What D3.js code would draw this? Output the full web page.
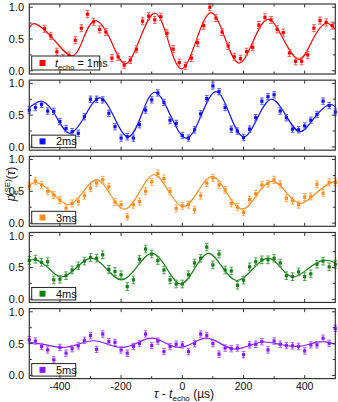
<!DOCTYPE html>
<html>
<head>
<meta charset="utf-8">
<script src="https://cdn.jsdelivr.net/npm/d3@7"></script>
<style>
  body { margin: 0; background: #fff; }
  text { font-family: "Liberation Sans", Arial, sans-serif; fill: #111; }
</style>
</head>
<body>
<div id="chart"></div>
<script>
// tau grids (µs)
var tauOdd = [-450, -430, -410, -390, -370, -350, -330, -310, -290, -270, -250, -230, -210, -190, -170, -150,
  -130, -110, -90, -70, -50, -30, -10, 10, 30, 50, 70, 90, 110, 130, 150, 170, 190, 210, 230, 250, 270, 290,
  310, 330, 350, 370, 390, 410, 430, 450, 470, 490];
var tauEven = [-500, -480, -460, -440, -420, -400, -380, -360, -340, -320, -300, -280, -260, -240, -220, -200,
  -180, -160, -140, -120, -100, -80, -60, -40, -20, 0, 20, 40, 60, 80, 100, 120, 140, 160, 180, 200, 220, 240,
  260, 280, 300, 320, 340, 360, 380, 400, 420, 440, 460, 480, 500];

// measured p_e for each echo time
var pe1ms = [0.66, 0.55, 0.30, 0.20, 0.24, 0.48, 0.67, 0.89, 0.77, 0.65, 0.61, 0.20, 0.22, 0.09, 0.17, 0.34,
  0.78, 0.86, 0.80, 0.85, 0.59, 0.34, 0.13, 0.08, 0.20, 0.44, 0.71, 1.00, 0.83, 0.61, 0.39, 0.22, 0.19, 0.30,
  0.37, 0.72, 0.84, 0.80, 0.65, 0.60, 0.28, 0.15, 0.15, 0.25, 0.67, 0.79, 0.76, 0.71];
var pe2ms = [0.58, 0.62, 0.67, 0.565, 0.56, 0.40, 0.29, 0.24, 0.215, 0.475, 0.75, 0.75, 0.74, 0.53, 0.32, 0.14,
  0.16, 0.14, 0.35, 0.58, 0.74, 0.85, 0.70, 0.42, 0.37, 0.18, 0.14, 0.27, 0.52, 0.76, 0.96, 0.87, 0.62, 0.28,
  0.25, 0.15, 0.28, 0.46, 0.72, 0.79, 0.82, 0.565, 0.46, 0.28, 0.27, 0.33, 0.42, 0.51, 0.72, 0.65, 0.55];
var pe3ms = [0.58, 0.66, 0.60, 0.50, 0.44, 0.36, 0.235, 0.31, 0.34, 0.43, 0.55, 0.63, 0.68, 0.57, 0.33, 0.29,
  0.10, 0.29, 0.34, 0.50, 0.65, 0.78, 0.70, 0.50, 0.23, 0.27, 0.29, 0.21, 0.43, 0.63, 0.71, 0.60, 0.52, 0.31,
  0.25, 0.17, 0.37, 0.46, 0.60, 0.62, 0.68, 0.61, 0.39, 0.355, 0.29, 0.41, 0.42, 0.61, 0.47, 0.64, 0.64];
var pe4ms = [0.61, 0.63, 0.58, 0.59, 0.305, 0.315, 0.37, 0.46, 0.525, 0.60, 0.655, 0.645, 0.70, 0.47, 0.435,
  0.385, 0.20, 0.305, 0.63, 0.79, 0.71, 0.61, 0.46, 0.305, 0.24, 0.24, 0.385, 0.57, 0.645, 0.82, 0.54, 0.71,
  0.46, 0.445, 0.22, 0.30, 0.51, 0.59, 0.62, 0.62, 0.645, 0.57, 0.37, 0.355, 0.43, 0.355, 0.40, 0.55, 0.60,
  0.51, 0.55];
var pe5ms = [0.56, 0.54, 0.455, 0.40, 0.245, 0.44, 0.35, 0.42, 0.465, 0.55, 0.625, 0.41, 0.65, 0.53, 0.52, 0.40,
  0.35, 0.455, 0.50, 0.65, 0.47, 0.54, 0.375, 0.455, 0.49, 0.48, 0.375, 0.50, 0.65, 0.625, 0.50, 0.335, 0.43,
  0.42, 0.43, 0.325, 0.48, 0.49, 0.53, 0.40, 0.54, 0.49, 0.47, 0.465, 0.455, 0.385, 0.48, 0.48, 0.585, 0.505,
  0.74];

var fit1ms = [[-500, 0.675], [-476, 0.73], [-418, 0.48], [-361, 0.235], [-323, 0.51], [-285, 0.79], [-236, 0.50],
  [-187, 0.11], [-138, 0.51], [-89, 0.905], [-46, 0.47], [-3, 0.03], [45, 0.47], [93, 0.915], [139, 0.52],
  [185, 0.12], [232, 0.47], [280, 0.81], [330, 0.50], [381, 0.18], [423, 0.46], [465, 0.74], [500, 0.65]];
var fit2ms = [[-500, 0.62], [-454, 0.71], [-410, 0.46], [-367, 0.215], [-318, 0.49], [-269, 0.77], [-222, 0.46],
  [-176, 0.16], [-133, 0.51], [-90, 0.86], [-39, 0.50], [13, 0.14], [62, 0.50], [110, 0.87], [155, 0.51],
  [200, 0.16], [246, 0.46], [291, 0.75], [338, 0.50], [384, 0.24], [430, 0.45], [476, 0.66], [500, 0.63]];
var fit3ms = [[-500, 0.60], [-470, 0.63], [-420, 0.45], [-372, 0.29], [-326, 0.48], [-280, 0.68], [-235, 0.45],
  [-188, 0.22], [-140, 0.49], [-92, 0.76], [-45, 0.50], [3, 0.26], [50, 0.49], [98, 0.73], [146, 0.47],
  [195, 0.22], [243, 0.44], [292, 0.66], [340, 0.48], [387, 0.31], [437, 0.47], [487, 0.64], [500, 0.63]];
var fit4ms = [[-500, 0.60], [-478, 0.62], [-437, 0.49], [-395, 0.35], [-345, 0.50], [-296, 0.645], [-246, 0.47],
  [-197, 0.305], [-148, 0.51], [-98, 0.72], [-50, 0.48], [-5, 0.24], [40, 0.48], [85, 0.72], [130, 0.51],
  [178, 0.295], [229, 0.47], [280, 0.645], [321, 0.50], [362, 0.35], [411, 0.48], [460, 0.61], [500, 0.575]];
var fit5ms = [[-500, 0.52], [-445, 0.48], [-390, 0.44], [-340, 0.49], [-290, 0.545], [-243, 0.49], [-197, 0.44],
  [-148, 0.51], [-100, 0.585], [-55, 0.51], [-10, 0.44], [35, 0.51], [80, 0.585], [125, 0.50], [170, 0.415],
  [220, 0.47], [265, 0.525], [318, 0.49], [370, 0.455], [415, 0.49], [460, 0.53], [500, 0.49]];

var errBar = [0.055, 0.05, 0.055, 0.06, 0.05];
var echoLabels = ["1ms", "2ms", "3ms", "4ms", "5ms"];
var xTicks = [-400, -200, 0, 200, 400];
var yTicks = [0, 0.5, 1];

var colors = ["#ff0000", "#1010ff", "#ff8c1a", "#108010", "#8a1aff"];
var errColors = ["#ff5555", "#5a5aff", "#ffaa55", "#50a050", "#a860ff"];

var panels = [
  { tau: tauOdd, pe: pe1ms, fit: fit1ms },
  { tau: tauEven, pe: pe2ms, fit: fit2ms },
  { tau: tauEven, pe: pe3ms, fit: fit3ms },
  { tau: tauEven, pe: pe4ms, fit: fit4ms },
  { tau: tauEven, pe: pe5ms, fit: fit5ms }
];

var width = 338, height = 402;
var panel_top = 4, panel_h = 70, panel_step = 76.15;

var svg = d3.select("#chart").append("svg")
  .attr("width", width)
  .attr("height", height);

var x = d3.scaleLinear().domain([-500, 500]).range([29.3, 335.3]);
var y = d3.scaleLinear().domain([-0.05, 1.05]).range([panel_h, 0]);

var fitLine = d3.line()
  .x(function (d) { return x(d[0]); })
  .y(function (d) { return y(d[1]); })
  .curve(d3.curveNatural);

panels.forEach(function (p, k) {
  var g = svg.append("g").attr("transform", "translate(0," + (panel_top + k * panel_step) + ")");
  var col = colors[k];

  // fit
  g.append("path")
    .attr("d", fitLine(p.fit))
    .attr("fill", "none")
    .attr("stroke", col)
    .attr("stroke-width", 1.2);

  var pts = p.tau.map(function (t, i) { return { t: t, v: p.pe[i] }; });
  var e = errBar[k];

  // error bars
  var eb = g.append("g").attr("stroke", errColors[k]).attr("stroke-width", 1);
  eb.selectAll(".v").data(pts).enter().append("line")
    .attr("x1", function (d) { return x(d.t); })
    .attr("x2", function (d) { return x(d.t); })
    .attr("y1", function (d) { return y(d.v - e); })
    .attr("y2", function (d) { return y(d.v + e); });
  [-1, 1].forEach(function (s) {
    eb.selectAll(".c" + s).data(pts).enter().append("line")
      .attr("x1", function (d) { return x(d.t) - 1.8; })
      .attr("x2", function (d) { return x(d.t) + 1.8; })
      .attr("y1", function (d) { return y(d.v + s * e); })
      .attr("y2", function (d) { return y(d.v + s * e); });
  });

  // markers
  g.selectAll(".m").data(pts).enter().append("rect")
    .attr("x", function (d) { return x(d.t) - 1.6; })
    .attr("y", function (d) { return y(d.v) - 1.6; })
    .attr("width", 3.2)
    .attr("height", 3.2)
    .attr("fill", col);

  // legend
  var lw = k == 0 ? 68 : 44;
  var ly = k == 0 ? 52 : 55;
  var lh = k == 0 ? 14 : 12.5;
  g.append("rect")
    .attr("x", 31.7).attr("y", ly).attr("width", lw).attr("height", lh)
    .attr("fill", "#fff").attr("stroke", "#222").attr("stroke-width", 1);
  g.append("rect")
    .attr("x", 39.5).attr("y", ly + lh / 2 - 3).attr("width", 6).attr("height", 6)
    .attr("fill", col);
  var lt = g.append("text")
    .attr("x", k == 0 ? 55 : 56)
    .attr("y", ly + lh / 2 + 4)
    .attr("font-size", "11px");
  if (k == 0) {
    lt.append("tspan").attr("font-style", "italic").text("t");
    lt.append("tspan").attr("font-size", "7.5px").attr("dy", 2.5).text("echo");
    lt.append("tspan").attr("dy", -2.5).text(" = " + echoLabels[k]);
  } else {
    lt.text(echoLabels[k]);
  }

  // frame
  g.append("rect")
    .attr("x", x(-500)).attr("y", 0)
    .attr("width", x(500) - x(-500)).attr("height", panel_h)
    .attr("fill", "none").attr("stroke", "#333").attr("stroke-width", 1.2);

  // ticks, inward
  var tk = g.append("g").attr("stroke", "#333").attr("stroke-width", 1);
  d3.range(-400, 401, 100).forEach(function (t) {
    var len = t % 200 == 0 ? 3.5 : 2.5;
    tk.append("line").attr("x1", x(t)).attr("x2", x(t)).attr("y1", panel_h).attr("y2", panel_h - len);
    tk.append("line").attr("x1", x(t)).attr("x2", x(t)).attr("y1", 0).attr("y2", len);
  });
  [0, 0.25, 0.5, 0.75, 1].forEach(function (v) {
    var len = v % 0.5 == 0 ? 3.5 : 2.5;
    tk.append("line").attr("x1", x(-500)).attr("x2", x(-500) + len).attr("y1", y(v)).attr("y2", y(v));
    tk.append("line").attr("x1", x(500)).attr("x2", x(500) - len).attr("y1", y(v)).attr("y2", y(v));
  });

  g.selectAll(".yl").data(yTicks).enter().append("text")
    .attr("x", 24)
    .attr("y", function (d) { return y(d); })
    .attr("dy", "0.36em")
    .attr("text-anchor", "end")
    .attr("font-size", "11px")
    .text(function (d) { return d.toFixed(1); });

  if (k == panels.length - 1) {
    g.selectAll(".xl").data(xTicks).enter().append("text")
      .attr("x", function (d) { return x(d); })
      .attr("y", panel_h + 11.5)
      .attr("text-anchor", "middle")
      .attr("font-size", "10.5px")
      .text(function (d) { return d; });
  }
});

// axis titles
var xt = svg.append("text")
  .attr("x", 184).attr("y", 398)
  .attr("text-anchor", "middle")
  .attr("font-size", "12px");
xt.append("tspan").attr("font-style", "italic").text("τ");
xt.append("tspan").text(" - ");
xt.append("tspan").attr("font-style", "italic").text("t");
xt.append("tspan").attr("font-size", "8px").attr("dy", 2.5).text("echo");
xt.append("tspan").attr("dy", -2.5).text(" (µs)");

var yt = svg.append("text")
  .attr("transform", "translate(15,184) rotate(-90)")
  .attr("text-anchor", "middle")
  .attr("font-size", "12px");
yt.append("tspan").attr("font-style", "italic").text("p");
yt.append("tspan").attr("font-size", "8px").attr("dy", 2.5).text("e");
yt.append("tspan").attr("font-size", "8px").attr("dx", -5).attr("dy", -8).text("(SE)");
yt.append("tspan").attr("dy", 5.5).text("(");
yt.append("tspan").attr("font-style", "italic").text("τ");
yt.append("tspan").text(")");
</script>
</body>
</html>
